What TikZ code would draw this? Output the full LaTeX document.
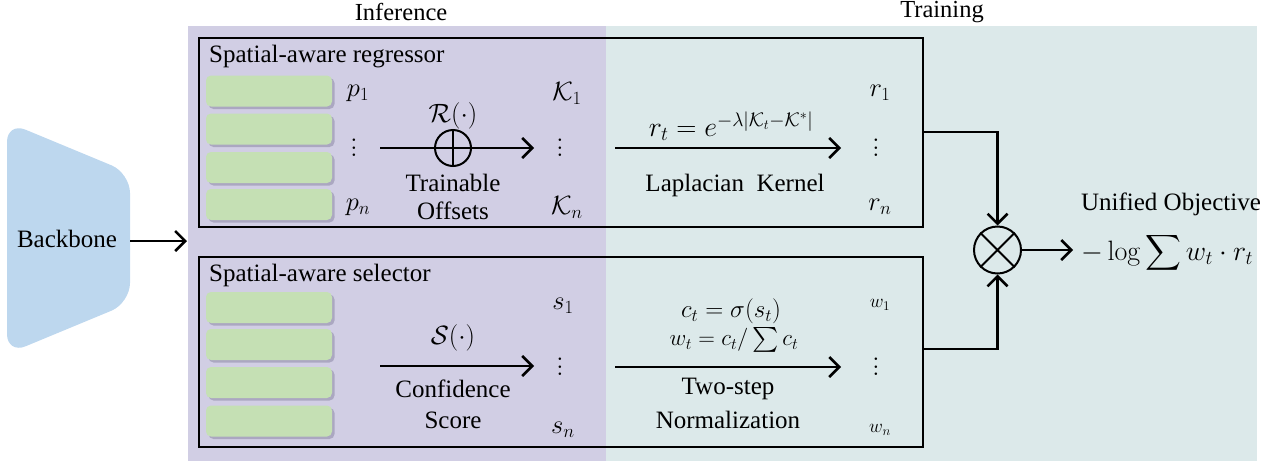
\RequirePackage{fix-cm}
\documentclass[tikz,border=0pt]{standalone}
\usepackage{amsmath}
\usepackage[no-math]{fontspec}
\setmainfont{Liberation Serif}
\usetikzlibrary{arrows.meta}
\definecolor{infbg}{HTML}{D1CEE4}
\definecolor{trnbg}{HTML}{DCE9EA}
\definecolor{rowgreen}{HTML}{C5E0B4}
\definecolor{rowshadow}{HTML}{8C88A6}
\definecolor{bbblue}{HTML}{BDD7EE}
\newcommand\szA{\fontsize{25}{29}\selectfont}
\newcommand\szM{\fontsize{26.5}{30}\selectfont}
\newcommand\szT{\fontsize{24.5}{28}\selectfont}
\newcommand\szS{\fontsize{23}{26}\selectfont}
\newcommand\szW{\fontsize{19}{22}\selectfont}
\newcommand\myvdots{\vbox{\baselineskip=7.5pt \lineskiplimit=0pt \hbox{$.$}\hbox{$.$}\hbox{$.$}}}
\tikzset{
  txt/.style={font=\szA, inner sep=0pt, align=center},
  mth/.style={font=\szM, inner sep=0pt},
  ttl/.style={font=\szT, inner sep=0pt},
  rowbox/.style={fill=rowgreen, draw=none, rounded corners=5pt, minimum width=126pt, minimum height=31pt, inner sep=0pt},
  panel/.style={draw=black, line width=2pt, fill=none, inner sep=0pt},
  arr/.style={line width=2.5pt, -{Straight Barb[length=10pt,width=20pt,line width=2.5pt]}},
  conn/.style={line width=2.5pt},
}
\begin{document}
\begin{tikzpicture}[x=1pt,y=-1pt]
\useasboundingbox (0,0) rectangle (1268,461);
% backgrounds
\fill[infbg] (188,26) rectangle (606,461);
\fill[trnbg] (606,26) rectangle (1257,461);
\node[ttl] (tinf) at (401,12) {Inference};
\node[ttl] (ttrn) at (942,12) {Training};
% backbone
\fill[bbblue, rounded corners=20pt] (7,122) -- (130,173) -- (130,303) -- (7,354) -- cycle;
\node[txt] (bb) at (67,239) {Backbone};
\coordinate (bbR) at (130,241);
\coordinate (inL) at (187,241);
\draw[arr] (bbR) -- (inL);
% panels
\node[panel, minimum width=724pt, minimum height=189pt] (top) at (561,132.5) {};
\node[panel, minimum width=724pt, minimum height=190pt] (bot) at (561,352) {};
\node[txt, anchor=west] (ttop) at (209,57) {Spatial-aware regressor};
\node[txt, anchor=west] (tbot) at (209,275) {Spatial-aware selector};
% rows
\foreach \y [count=\i] in {91,129,167.5,204.5} {
  \fill[rowshadow, opacity=.55, rounded corners=5pt] (208.5,\y-15.5+2.5) rectangle ++(126,31);
  \node[rowbox] (rt\i) at (269,\y) {};
}
\foreach \y [count=\i] in {307.5,344.5,382.5,421} {
  \fill[rowshadow, opacity=.55, rounded corners=5pt] (208.5,\y-15.5+2.5) rectangle ++(126,31);
  \node[rowbox] (rb\i) at (269,\y) {};
}
% top labels
\node[mth] (p1) at (358,93) {$p_1$};
\node[mth] (pd) at (354,148) {$\myvdots$};
\node[mth] (pn) at (358,207) {$p_n$};
\node[mth] (k1) at (567,93) {$\mathcal{K}_1$};
\node[mth] (kd) at (560,148) {$\myvdots$};
\node[mth] (kn) at (567,207) {$\mathcal{K}_n$};
\node[mth] (r1) at (880,93) {$r_1$};
\node[mth] (rd) at (876,148) {$\myvdots$};
\node[mth] (rn) at (880,207) {$r_n$};
\coordinate (a1s) at (380,148);
\coordinate (a1e) at (534,148);
\draw[arr] (a1s) -- (a1e);
\node[circle, draw, line width=2pt, minimum size=36pt, inner sep=0pt] (op) at (453,148) {};
\draw[line width=2pt] (op.north) -- (op.south) (op.west) -- (op.east);
\node[mth] (Rf) at (453,116) {$\mathcal{R}(\cdot)$};
\node[txt] (tr1) at (453,183) {Trainable};
\node[txt] (tr2) at (453,211) {Offsets};
\coordinate (a2s) at (615,148);
\coordinate (a2e) at (841,148);
\draw[arr] (a2s) -- (a2e);
\node[mth, font=\fontsize{28}{32}\selectfont] (rt) at (731,126) {$r_t = e^{-\lambda|\mathcal{K}_t-\mathcal{K}^{*}|}$};
\node[txt] (lk) at (735,185) {Laplacian~~Kernel};
% bottom labels
\node[mth] (s1) at (563,306) {$s_1$};
\node[mth] (sd) at (560,367) {$\myvdots$};
\node[mth] (sn) at (563,430) {$s_n$};
\node[mth, font=\szW] (w1) at (880,305) {$w_1$};
\node[mth] (wd) at (876,367) {$\myvdots$};
\node[mth, font=\szW] (wn) at (880,430) {$w_n$};
\coordinate (b1s) at (380,366);
\coordinate (b1e) at (534,366);
\draw[arr] (b1s) -- (b1e);
\node[mth] (Sf) at (453,338) {$\mathcal{S}(\cdot)$};
\node[txt] (cs1) at (453,389) {Confidence};
\node[txt] (cs2) at (453,420) {Score};
\coordinate (b2s) at (615,367);
\coordinate (b2e) at (841,367);
\draw[arr] (b2s) -- (b2e);
\node[txt] (ct) at (731,311) {$c_t = \sigma(s_t)$};
\node[mth, font=\szS] (wt) at (734,340) {$w_t = c_t/\sum c_t$};
\node[txt] (ts1) at (728,389) {Two-step};
\node[txt] (ts2) at (728,420) {Normalization};
% combination
\node[circle, draw, line width=2pt, minimum size=47pt, inner sep=0pt] (ot) at (997.5,250) {};
\draw[line width=2pt] (ot.north east) -- (ot.south west) (ot.north west) -- (ot.south east);
\coordinate (topR) at (923,132);
\coordinate (botR) at (923,349);
\draw[conn, -{Straight Barb[length=10pt,width=20pt,line width=2.5pt]}] (topR) -| (ot.north);
\draw[conn, -{Straight Barb[length=10pt,width=20pt,line width=2.5pt]}] (botR) -| (ot.south);
\coordinate (outE) at (1073,250);
\draw[arr] (ot.east) -- (outE);
\node[txt] (uo) at (1171,204) {Unified Objective};
\node[mth, font=\fontsize{28}{32}\selectfont, anchor=west] (obj) at (1081,253) {$-\log\displaystyle\sum w_t\cdot r_t$};
\end{tikzpicture}
\end{document}
